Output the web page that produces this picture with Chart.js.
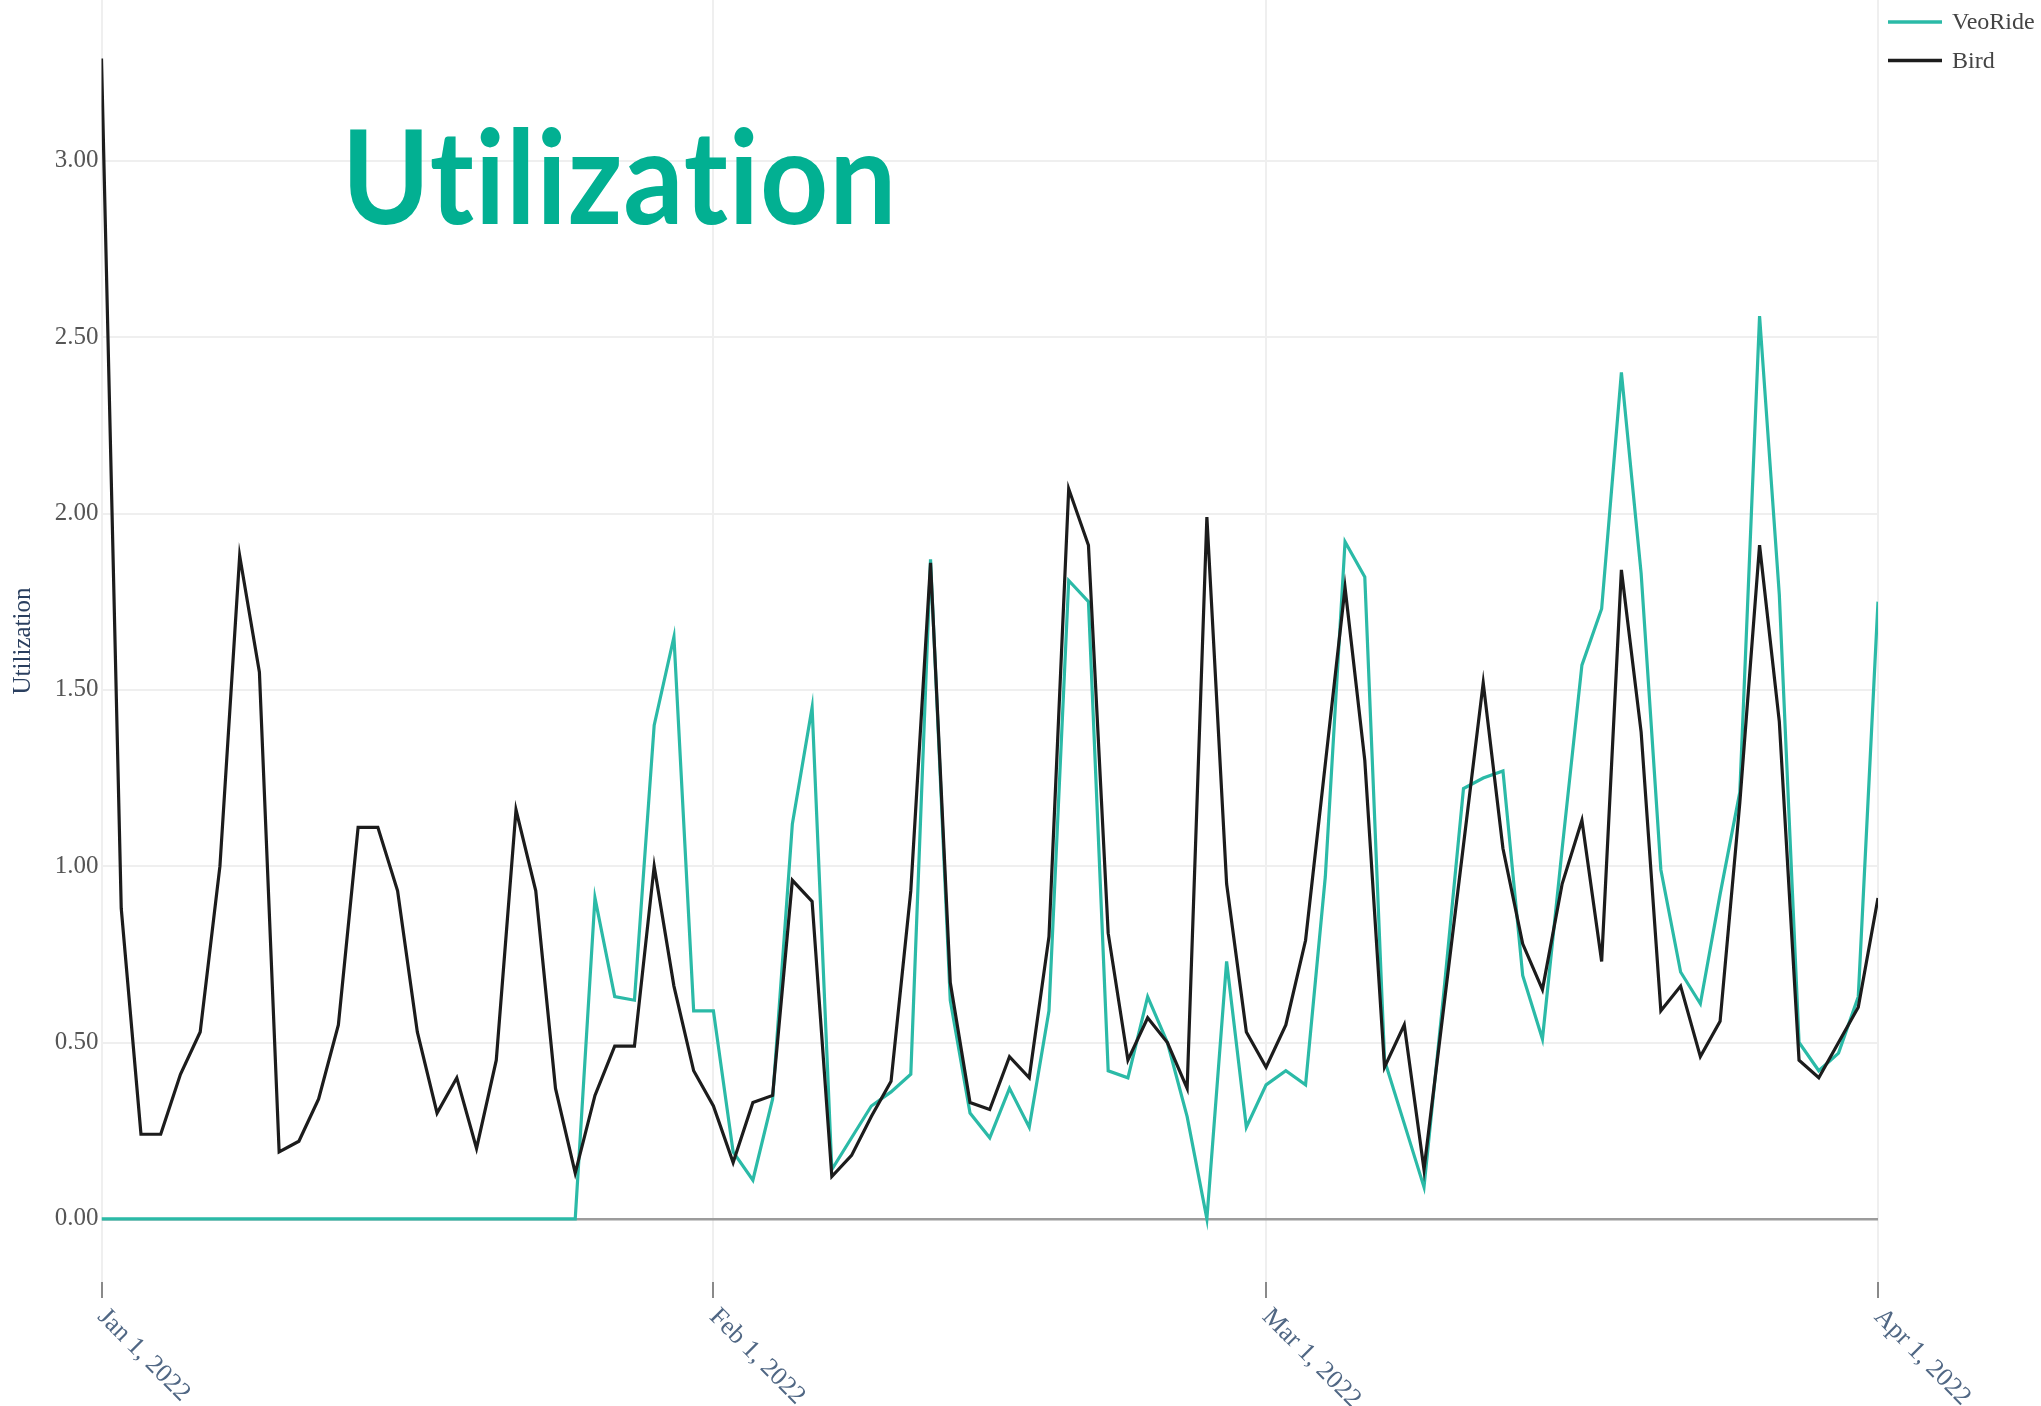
<!DOCTYPE html>
<html>
<head>
<meta charset="utf-8">
<script src="https://cdn.jsdelivr.net/npm/chart.js@4/dist/chart.umd.min.js"></script>
<style>
  html, body { margin: 0; padding: 0; background: #ffffff; }
  #wrap { width: 2041px; height: 1406px; position: relative; }
  canvas { display: block; }
</style>
</head>
<body>
<div id="wrap"><canvas id="c" width="2041" height="1406"></canvas></div>
<script>
// ---- Data (daily, Jan 1 2022 .. Apr 1 2022) ----
const chartTitle = 'Utilization';
const yAxisTitle = 'Utilization';
const seriesNames = ['VeoRide', 'Bird'];

const veoRideUtil = [
  0, 0, 0, 0, 0, 0, 0, 0, 0, 0,
  0, 0, 0, 0, 0, 0, 0, 0, 0, 0,
  0, 0, 0, 0, 0, 0.91, 0.63, 0.62, 1.40, 1.65,
  0.59, 0.59, 0.19, 0.11, 0.34, 1.12, 1.45, 0.14, 0.23, 0.32,
  0.36, 0.41, 1.87, 0.62, 0.30, 0.23, 0.37, 0.26, 0.59, 1.81,
  1.75, 0.42, 0.40, 0.63, 0.50, 0.29, 0.00, 0.73, 0.26, 0.38,
  0.42, 0.38, 0.97, 1.92, 1.82, 0.45, 0.27, 0.09, 0.64, 1.22,
  1.25, 1.27, 0.69, 0.51, 1.05, 1.57, 1.73, 2.40, 1.83, 0.99,
  0.70, 0.61, 0.92, 1.21, 2.56, 1.77, 0.50, 0.42, 0.47, 0.63,
  1.75
];

const birdUtil = [
  3.29, 0.88, 0.24, 0.24, 0.41, 0.53, 1.00, 1.88, 1.55, 0.19,
  0.22, 0.34, 0.55, 1.11, 1.11, 0.93, 0.53, 0.30, 0.40, 0.20,
  0.45, 1.16, 0.93, 0.37, 0.13, 0.35, 0.49, 0.49, 1.00, 0.66,
  0.42, 0.32, 0.16, 0.33, 0.35, 0.96, 0.90, 0.12, 0.18, 0.29,
  0.39, 0.93, 1.86, 0.67, 0.33, 0.31, 0.46, 0.40, 0.80, 2.07,
  1.91, 0.81, 0.45, 0.57, 0.50, 0.37, 1.99, 0.95, 0.53, 0.43,
  0.55, 0.79, 1.29, 1.79, 1.30, 0.43, 0.55, 0.14, 0.60, 1.06,
  1.52, 1.05, 0.78, 0.65, 0.95, 1.13, 0.73, 1.84, 1.38, 0.59,
  0.66, 0.46, 0.56, 1.18, 1.91, 1.41, 0.45, 0.40, 0.50, 0.60,
  0.91
];

// day offset from Jan 1, 2022 for each daily value
const dayIndex = birdUtil.map((_, i) => i);

const xTickDays = [0, 31, 59, 90];
const xTickLabels = ['Jan 1, 2022', 'Feb 1, 2022', 'Mar 1, 2022', 'Apr 1, 2022'];
const yTickValues = [0, 0.5, 1, 1.5, 2, 2.5, 3];
const yRange = [-0.179, 3.456];

// ---- Plugins ----
const SERIF = "'Liberation Serif', 'Times New Roman', serif";

const bigTitle = {
  id: 'bigTitle',
  afterDraw(chart) {
    const ctx = chart.ctx;
    ctx.save();
    ctx.font = "bold 131px Lato, 'Open Sans', sans-serif";
    if ('letterSpacing' in ctx) ctx.letterSpacing = '1px';
    ctx.fillStyle = '#02b092';
    ctx.textBaseline = 'alphabetic';
    ctx.textAlign = 'left';
    const m = ctx.measureText(chartTitle);
    const ink = m.actualBoundingBoxLeft + m.actualBoundingBoxRight;
    const sx = 540 / ink;
    ctx.translate(350 + m.actualBoundingBoxLeft * sx, 224);
    ctx.scale(sx, 1);
    ctx.fillText(chartTitle, 0, 0);
    ctx.restore();
  }
};

const xLabels = {
  id: 'xLabels',
  afterDraw(chart) {
    const xs = chart.scales.x;
    const ctx = chart.ctx;
    ctx.save();
    ctx.font = '26px ' + SERIF;
    ctx.fillStyle = '#506784';
    ctx.textAlign = 'left';
    ctx.textBaseline = 'middle';
    xs.ticks.forEach((t, i) => {
      const px = xs.getPixelForTick(i);
      ctx.save();
      ctx.translate(px, xs.top + 31);
      ctx.rotate(Math.PI / 4);
      ctx.fillText(xTickLabels[i], 0, 0);
      ctx.restore();
    });
    ctx.restore();
  }
};

const sideLegend = {
  id: 'sideLegend',
  afterDraw(chart) {
    const ctx = chart.ctx;
    ctx.save();
    ctx.font = '24px ' + SERIF;
    ctx.textAlign = 'left';
    ctx.textBaseline = 'middle';
    seriesNames.forEach((name, i) => {
      const ds = chart.data.datasets.find(d => d.label === name);
      const y = 22 + i * 38.5;
      ctx.strokeStyle = ds.borderColor;
      ctx.lineWidth = 3.5;
      ctx.beginPath();
      ctx.moveTo(1888, y);
      ctx.lineTo(1942, y);
      ctx.stroke();
      ctx.fillStyle = '#444444';
      ctx.fillText(name, 1952, y + 1);
    });
    ctx.restore();
  }
};

// ---- Chart ----
Chart.defaults.font.family = SERIF;

new Chart(document.getElementById('c'), {
  type: 'line',
  data: {
    labels: dayIndex,
    datasets: [
      {
        label: seriesNames[0],
        data: veoRideUtil,
        borderColor: '#2bbaa7',
        borderWidth: 3.2,
        pointRadius: 0,
        tension: 0,
        fill: false,
        order: 1
      },
      {
        label: seriesNames[1],
        data: birdUtil,
        borderColor: '#1c1c1c',
        borderWidth: 3.2,
        pointRadius: 0,
        tension: 0,
        fill: false,
        order: 0
      }
    ]
  },
  options: {
    responsive: false,
    animation: false,
    devicePixelRatio: 1,
    layout: { padding: { left: 0, right: 163, top: 0, bottom: 0 } },
    plugins: {
      legend: { display: false },
      title: { display: false },
      tooltip: { enabled: false }
    },
    scales: {
      x: {
        type: 'linear',
        min: xTickDays[0],
        max: xTickDays[xTickDays.length - 1],
        afterBuildTicks: s => { s.ticks = xTickDays.map(v => ({ value: v })); },
        afterFit: s => { s.height = 124; },
        ticks: { display: false },
        grid: {
          color: '#efefef',
          lineWidth: 2,
          drawTicks: true,
          tickLength: 16,
          tickColor: '#8a8a8a',
          tickWidth: 2
        },
        border: { display: false }
      },
      y: {
        type: 'linear',
        min: yRange[0],
        max: yRange[1],
        afterBuildTicks: s => { s.ticks = yTickValues.map(v => ({ value: v })); },
        afterFit: s => { s.width = 101.5; s.paddingTop = 0; s.paddingBottom = 0; },
        ticks: {
          callback: v => Number(v).toFixed(2),
          color: '#555555',
          font: { size: 25 },
          padding: 3
        },
        grid: {
          drawTicks: false,
          color: c => (c.tick && c.tick.value === 0) ? '#9c9c9c' : '#efefef',
          lineWidth: c => (c.tick && c.tick.value === 0) ? 2.6 : 2
        },
        border: { display: false },
        title: {
          display: true,
          text: yAxisTitle,
          color: '#2a3f5f',
          font: { size: 25 },
          padding: { top: 8, bottom: 0 }
        }
      }
    }
  },
  plugins: [bigTitle, xLabels, sideLegend]
});
</script>
</body>
</html>
